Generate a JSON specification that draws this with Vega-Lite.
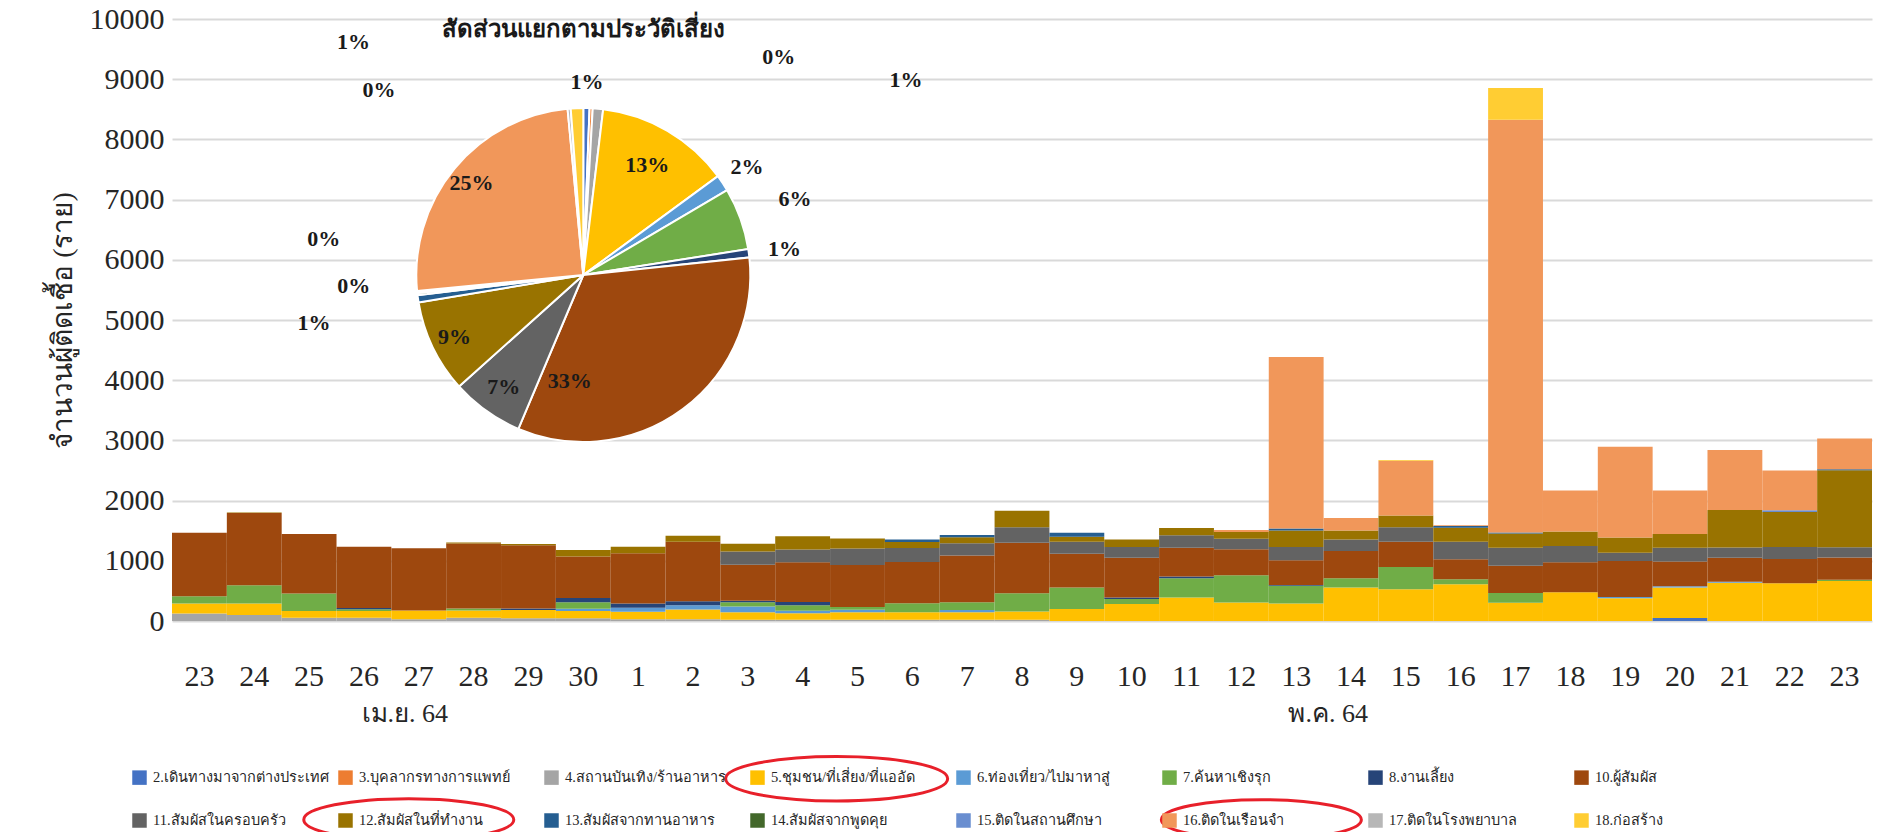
{
  "$schema": "https://vega.github.io/schema/vega-lite/v6.json",
  "width": 1700,
  "height": 602,
  "autosize": "none",
  "padding": {"left": 172, "top": 19, "right": 5, "bottom": 211},
  "background": "white",
  "config": {"view": {"stroke": null}, "font": "Liberation Serif"},
  "datasets": {
    "cats": [
      {"k": 2, "c": "2.เดินทางมาจากต่างประเทศ"},
      {"k": 3, "c": "3.บุคลากรทางการแพทย์"},
      {"k": 4, "c": "4.สถานบันเทิง/ร้านอาหาร"},
      {"k": 5, "c": "5.ชุมชน/ที่เสี่ยง/ที่แออัด"},
      {"k": 6, "c": "6.ท่องเที่ยว/ไปมาหาสู่"},
      {"k": 7, "c": "7.ค้นหาเชิงรุก"},
      {"k": 8, "c": "8.งานเลี้ยง"},
      {"k": 10, "c": "10.ผู้สัมผัส"},
      {"k": 11, "c": "11.สัมผัสในครอบครัว"},
      {"k": 12, "c": "12.สัมผัสในที่ทำงาน"},
      {"k": 13, "c": "13.สัมผัสจากทานอาหาร"},
      {"k": 14, "c": "14.สัมผัสจากพูดคุย"},
      {"k": 15, "c": "15.ติดในสถานศึกษา"},
      {"k": 16, "c": "16.ติดในเรือนจำ"},
      {"k": 17, "c": "17.ติดในโรงพยาบาล"},
      {"k": 18, "c": "18.ก่อสร้าง"}
    ],
    "pie": [
      {"k": 2, "s": 0.006}, {"k": 3, "s": 0.003}, {"k": 4, "s": 0.010}, {"k": 5, "s": 0.13},
      {"k": 6, "s": 0.016}, {"k": 7, "s": 0.06}, {"k": 8, "s": 0.008}, {"k": 10, "s": 0.33},
      {"k": 11, "s": 0.07}, {"k": 12, "s": 0.09}, {"k": 13, "s": 0.007}, {"k": 14, "s": 0.002},
      {"k": 15, "s": 0.002}, {"k": 16, "s": 0.25}, {"k": 17, "s": 0.003}, {"k": 18, "s": 0.012}
    ],
    "bars": [
      {"d": "04-23", "k": 4, "v": 126}, {"d": "04-23", "k": 5, "v": 165}, {"d": "04-23", "k": 7, "v": 121}, {"d": "04-23", "k": 10, "v": 1055},
      {"d": "04-24", "k": 4, "v": 100}, {"d": "04-24", "k": 5, "v": 192}, {"d": "04-24", "k": 7, "v": 302}, {"d": "04-24", "k": 10, "v": 1198}, {"d": "04-24", "k": 12, "v": 12},
      {"d": "04-25", "k": 4, "v": 55}, {"d": "04-25", "k": 5, "v": 110}, {"d": "04-25", "k": 7, "v": 291}, {"d": "04-25", "k": 10, "v": 989},
      {"d": "04-26", "k": 4, "v": 55}, {"d": "04-26", "k": 5, "v": 110}, {"d": "04-26", "k": 7, "v": 30}, {"d": "04-26", "k": 8, "v": 20}, {"d": "04-26", "k": 10, "v": 1020},
      {"d": "04-27", "k": 4, "v": 27}, {"d": "04-27", "k": 5, "v": 148}, {"d": "04-27", "k": 10, "v": 1033},
      {"d": "04-28", "k": 4, "v": 55}, {"d": "04-28", "k": 5, "v": 121}, {"d": "04-28", "k": 7, "v": 33}, {"d": "04-28", "k": 10, "v": 1078}, {"d": "04-28", "k": 12, "v": 15},
      {"d": "04-29", "k": 4, "v": 44}, {"d": "04-29", "k": 5, "v": 137}, {"d": "04-29", "k": 8, "v": 27}, {"d": "04-29", "k": 10, "v": 1050}, {"d": "04-29", "k": 12, "v": 20},
      {"d": "04-30", "k": 4, "v": 44}, {"d": "04-30", "k": 5, "v": 121}, {"d": "04-30", "k": 6, "v": 40}, {"d": "04-30", "k": 7, "v": 108}, {"d": "04-30", "k": 8, "v": 71}, {"d": "04-30", "k": 10, "v": 687}, {"d": "04-30", "k": 12, "v": 110},
      {"d": "05-01", "k": 4, "v": 27}, {"d": "05-01", "k": 5, "v": 126}, {"d": "05-01", "k": 6, "v": 66}, {"d": "05-01", "k": 8, "v": 71}, {"d": "05-01", "k": 10, "v": 835}, {"d": "05-01", "k": 12, "v": 110},
      {"d": "05-02", "k": 4, "v": 27}, {"d": "05-02", "k": 5, "v": 165}, {"d": "05-02", "k": 6, "v": 71}, {"d": "05-02", "k": 8, "v": 66}, {"d": "05-02", "k": 10, "v": 989}, {"d": "05-02", "k": 12, "v": 99},
      {"d": "05-03", "k": 4, "v": 20}, {"d": "05-03", "k": 5, "v": 126}, {"d": "05-03", "k": 6, "v": 93}, {"d": "05-03", "k": 7, "v": 71}, {"d": "05-03", "k": 8, "v": 27}, {"d": "05-03", "k": 10, "v": 599}, {"d": "05-03", "k": 11, "v": 220}, {"d": "05-03", "k": 12, "v": 126},
      {"d": "05-04", "k": 4, "v": 20}, {"d": "05-04", "k": 5, "v": 110}, {"d": "05-04", "k": 6, "v": 40}, {"d": "05-04", "k": 7, "v": 90}, {"d": "05-04", "k": 8, "v": 55}, {"d": "05-04", "k": 10, "v": 660}, {"d": "05-04", "k": 11, "v": 214}, {"d": "05-04", "k": 12, "v": 220},
      {"d": "05-05", "k": 4, "v": 20}, {"d": "05-05", "k": 5, "v": 126}, {"d": "05-05", "k": 6, "v": 40}, {"d": "05-05", "k": 7, "v": 45}, {"d": "05-05", "k": 10, "v": 698}, {"d": "05-05", "k": 11, "v": 275}, {"d": "05-05", "k": 12, "v": 165},
      {"d": "05-06", "k": 4, "v": 20}, {"d": "05-06", "k": 5, "v": 126}, {"d": "05-06", "k": 7, "v": 148}, {"d": "05-06", "k": 10, "v": 687}, {"d": "05-06", "k": 11, "v": 231}, {"d": "05-06", "k": 12, "v": 99}, {"d": "05-06", "k": 13, "v": 44},
      {"d": "05-07", "k": 4, "v": 20}, {"d": "05-07", "k": 5, "v": 126}, {"d": "05-07", "k": 6, "v": 38}, {"d": "05-07", "k": 7, "v": 126}, {"d": "05-07", "k": 10, "v": 780}, {"d": "05-07", "k": 11, "v": 203}, {"d": "05-07", "k": 12, "v": 99}, {"d": "05-07", "k": 13, "v": 38},
      {"d": "05-08", "k": 4, "v": 20}, {"d": "05-08", "k": 5, "v": 137}, {"d": "05-08", "k": 7, "v": 302}, {"d": "05-08", "k": 10, "v": 841}, {"d": "05-08", "k": 11, "v": 258}, {"d": "05-08", "k": 12, "v": 275},
      {"d": "05-09", "k": 5, "v": 198}, {"d": "05-09", "k": 7, "v": 358}, {"d": "05-09", "k": 10, "v": 562}, {"d": "05-09", "k": 11, "v": 198}, {"d": "05-09", "k": 12, "v": 83}, {"d": "05-09", "k": 13, "v": 66},
      {"d": "05-10", "k": 5, "v": 281}, {"d": "05-10", "k": 7, "v": 83}, {"d": "05-10", "k": 8, "v": 27}, {"d": "05-10", "k": 10, "v": 661}, {"d": "05-10", "k": 11, "v": 176}, {"d": "05-10", "k": 12, "v": 127},
      {"d": "05-11", "k": 5, "v": 391}, {"d": "05-11", "k": 7, "v": 320}, {"d": "05-11", "k": 8, "v": 30}, {"d": "05-11", "k": 10, "v": 474}, {"d": "05-11", "k": 11, "v": 209}, {"d": "05-11", "k": 12, "v": 121},
      {"d": "05-12", "k": 5, "v": 309}, {"d": "05-12", "k": 7, "v": 452}, {"d": "05-12", "k": 10, "v": 430}, {"d": "05-12", "k": 11, "v": 176}, {"d": "05-12", "k": 12, "v": 110}, {"d": "05-12", "k": 16, "v": 33},
      {"d": "05-13", "k": 5, "v": 292}, {"d": "05-13", "k": 7, "v": 292}, {"d": "05-13", "k": 8, "v": 16}, {"d": "05-13", "k": 10, "v": 408}, {"d": "05-13", "k": 11, "v": 220}, {"d": "05-13", "k": 12, "v": 275}, {"d": "05-13", "k": 13, "v": 33}, {"d": "05-13", "k": 16, "v": 2850},
      {"d": "05-14", "k": 5, "v": 556}, {"d": "05-14", "k": 7, "v": 154}, {"d": "05-14", "k": 10, "v": 452}, {"d": "05-14", "k": 11, "v": 193}, {"d": "05-14", "k": 12, "v": 149}, {"d": "05-14", "k": 16, "v": 209},
      {"d": "05-15", "k": 5, "v": 529}, {"d": "05-15", "k": 7, "v": 369}, {"d": "05-15", "k": 10, "v": 419}, {"d": "05-15", "k": 11, "v": 242}, {"d": "05-15", "k": 12, "v": 193}, {"d": "05-15", "k": 16, "v": 909}, {"d": "05-15", "k": 18, "v": 12},
      {"d": "05-16", "k": 5, "v": 611}, {"d": "05-16", "k": 7, "v": 83}, {"d": "05-16", "k": 10, "v": 331}, {"d": "05-16", "k": 11, "v": 292}, {"d": "05-16", "k": 12, "v": 231}, {"d": "05-16", "k": 13, "v": 28}, {"d": "05-16", "k": 16, "v": 15},
      {"d": "05-17", "k": 5, "v": 305}, {"d": "05-17", "k": 7, "v": 162}, {"d": "05-17", "k": 10, "v": 449}, {"d": "05-17", "k": 11, "v": 299}, {"d": "05-17", "k": 12, "v": 240}, {"d": "05-17", "k": 13, "v": 15}, {"d": "05-17", "k": 16, "v": 6856}, {"d": "05-17", "k": 18, "v": 527},
      {"d": "05-18", "k": 5, "v": 479}, {"d": "05-18", "k": 10, "v": 497}, {"d": "05-18", "k": 11, "v": 269}, {"d": "05-18", "k": 12, "v": 240}, {"d": "05-18", "k": 16, "v": 683},
      {"d": "05-19", "k": 5, "v": 377}, {"d": "05-19", "k": 6, "v": 20}, {"d": "05-19", "k": 10, "v": 599}, {"d": "05-19", "k": 11, "v": 138}, {"d": "05-19", "k": 12, "v": 251}, {"d": "05-19", "k": 16, "v": 1509},
      {"d": "05-20", "k": 2, "v": 48}, {"d": "05-20", "k": 5, "v": 509}, {"d": "05-20", "k": 6, "v": 20}, {"d": "05-20", "k": 10, "v": 413}, {"d": "05-20", "k": 11, "v": 228}, {"d": "05-20", "k": 12, "v": 228}, {"d": "05-20", "k": 16, "v": 720},
      {"d": "05-21", "k": 5, "v": 635}, {"d": "05-21", "k": 6, "v": 15}, {"d": "05-21", "k": 10, "v": 401}, {"d": "05-21", "k": 11, "v": 168}, {"d": "05-21", "k": 12, "v": 623}, {"d": "05-21", "k": 16, "v": 1000},
      {"d": "05-22", "k": 15, "v": 30}, {"d": "05-22", "k": 5, "v": 629}, {"d": "05-22", "k": 10, "v": 401}, {"d": "05-22", "k": 11, "v": 198}, {"d": "05-22", "k": 12, "v": 581}, {"d": "05-22", "k": 16, "v": 660},
      {"d": "05-23", "k": 5, "v": 665}, {"d": "05-23", "k": 7, "v": 20}, {"d": "05-23", "k": 10, "v": 371}, {"d": "05-23", "k": 11, "v": 168}, {"d": "05-23", "k": 12, "v": 1281}, {"d": "05-23", "k": 13, "v": 15}, {"d": "05-23", "k": 16, "v": 510}
    ]
  },
  "layer": [
    {
      "data": {"name": "bars"},
      "transform": [{"lookup": "k", "from": {"data": {"name": "cats"}, "key": "k", "fields": ["c"]}}],
      "mark": {"type": "bar"},
      "encoding": {
        "x": {
          "field": "d", "type": "ordinal",
          "scale": {"paddingInner": 0, "paddingOuter": 0},
          "axis": {"orient": "bottom", "title": null, "labelExpr": "'' + parseInt(substring(datum.value, 3))", "labelAngle": 0, "labelFont": "Liberation Serif", "labelFontSize": 30, "labelColor": "#262626", "labelBaseline": "middle", "labelPadding": 55, "ticks": false, "domain": false, "grid": false}
        },
        "y": {
          "field": "v", "type": "quantitative", "stack": "zero",
          "scale": {"domain": [0, 10000], "nice": false},
          "axis": {"title": "จำนวนผู้ติดเชื้อ (ราย)", "format": "d", "values": [0, 1000, 2000, 3000, 4000, 5000, 6000, 7000, 8000, 9000, 10000], "labelFont": "Liberation Serif", "labelFontSize": 30, "labelColor": "#262626", "labelPadding": 8, "ticks": false, "domain": false, "gridColor": "#d9d9d9", "gridWidth": 2, "titleFont": "Liberation Serif", "titleFontSize": 28, "titleFontWeight": "normal", "titleColor": "#262626", "titlePadding": 12}
        },
        "color": {
          "field": "c", "type": "nominal",
          "scale": {
            "domain": ["2.เดินทางมาจากต่างประเทศ", "3.บุคลากรทางการแพทย์", "4.สถานบันเทิง/ร้านอาหาร", "5.ชุมชน/ที่เสี่ยง/ที่แออัด", "6.ท่องเที่ยว/ไปมาหาสู่", "7.ค้นหาเชิงรุก", "8.งานเลี้ยง", "10.ผู้สัมผัส", "11.สัมผัสในครอบครัว", "12.สัมผัสในที่ทำงาน", "13.สัมผัสจากทานอาหาร", "14.สัมผัสจากพูดคุย", "15.ติดในสถานศึกษา", "16.ติดในเรือนจำ", "17.ติดในโรงพยาบาล", "18.ก่อสร้าง"],
            "range": ["#4472C4", "#ED7D31", "#A5A5A5", "#FFC000", "#5B9BD5", "#70AD47", "#264478", "#9E480E", "#636363", "#997300", "#255E91", "#43682B", "#698ED0", "#F1975A", "#B7B7B7", "#FFCD33"]
          },
          "legend": {"orient": "none", "legendX": -40, "legendY": 751, "direction": "horizontal", "columns": 8, "title": null, "symbolType": "square", "symbolSize": 210, "symbolStrokeWidth": 0, "labelFont": "Liberation Serif", "labelFontSize": 14.5, "labelColor": "#262626", "columnPadding": 9, "rowPadding": 27, "labelLimit": 400, "gridAlign": "all", "labelOffset": 6, "padding": 0}
        },
        "order": {"field": "k", "type": "quantitative", "sort": "ascending"}
      }
    },
    {
      "data": {"name": "pie"},
      "transform": [{"lookup": "k", "from": {"data": {"name": "cats"}, "key": "k", "fields": ["c"]}}],
      "mark": {"type": "arc", "outerRadius": 167, "stroke": "white", "strokeWidth": 2, "yOffset": -45},
      "encoding": {
        "x": {"datum": "04-30", "type": "ordinal", "axis": {"orient": "bottom", "title": null, "labelExpr": "datum.value == '04-27' ? 'เม.ย. 64' : datum.value == '05-13' ? 'พ.ค. 64' : ''", "labelOffset": {"condition": {"test": "datum.value == '04-27'", "value": -14}, "value": 32}, "labelAngle": 0, "labelFont": "Liberation Serif", "labelFontSize": 26, "labelColor": "#262626", "labelBaseline": "middle", "labelPadding": 92, "ticks": false, "domain": false, "grid": false}},
        "theta": {"field": "s", "type": "quantitative", "stack": true},
        "color": {"field": "c", "type": "nominal"},
        "order": {"field": "k", "type": "quantitative", "sort": "ascending"}
      }
    },
    {
      "data": {"name": "pie"},
      "mark": {
        "type": "text", "yOffset": -45, "font": "Liberation Serif", "fontWeight": "bold", "fontSize": 22, "color": "#1a1a1a",
        "radius": {"expr": "datum.k==5?127:datum.k==16?145:datum.k==11?137:datum.k==12?143:datum.k==10?108:datum.k==6?196:datum.k==7?225:datum.k==8?203:datum.k==13?272:datum.k==14?231:datum.k==15?261:datum.k==2?193:180"},
        "dx": {"expr": "datum.k==10?-78:datum.k==3?187:datum.k==4?307:datum.k==17?-189:datum.k==18?-223:0"},
        "dy": {"expr": "datum.k==10?19:datum.k==13?9:datum.k==14?-15:datum.k==15?-63:datum.k==3?-38:datum.k==4?-16:datum.k==17?-6:datum.k==18?-53:0"}
      },
      "encoding": {
        "x": {"datum": "04-30", "type": "ordinal", "axis": null},
        "theta": {"field": "s", "type": "quantitative", "stack": true},
        "detail": {"field": "k", "type": "nominal"},
        "order": {"field": "k", "type": "quantitative", "sort": "ascending"},
        "text": {"field": "s", "type": "quantitative", "format": ".0%"}
      }
    },
    {
      "data": {"values": [{"t": "สัดส่วนแยกตามประวัติเสี่ยง"}]},
      "mark": {"type": "text", "font": "Liberation Serif", "fontWeight": "bold", "fontSize": 24, "color": "#1a1a1a", "yOffset": -290},
      "encoding": {
        "x": {"datum": "04-30", "type": "ordinal", "axis": null},
        "text": {"field": "t", "type": "nominal"}
      }
    },
    {
      "data": {"values": [{"k": 5}]},
      "mark": {"type": "point", "shape": "M -1 0 A 1 0.2 0 1 0 1 0 A 1 0.2 0 1 0 -1 0", "size": 49284, "filled": false, "stroke": "#e8202a", "strokeWidth": 3, "opacity": 1, "xOffset": 34},
      "encoding": {
        "x": {"datum": "05-04", "type": "ordinal", "axis": null},
        "y": {"datum": -2620, "type": "quantitative"}
      }
    },
    {
      "data": {"values": [{"k": 12}]},
      "mark": {"type": "point", "shape": "M -1 0 A 1 0.2 0 1 0 1 0 A 1 0.2 0 1 0 -1 0", "size": 44100, "filled": false, "stroke": "#e8202a", "strokeWidth": 3, "opacity": 1, "xOffset": -10},
      "encoding": {
        "x": {"datum": "04-27", "type": "ordinal", "axis": null},
        "y": {"datum": -3300, "type": "quantitative"}
      }
    },
    {
      "data": {"values": [{"k": 16}]},
      "mark": {"type": "point", "shape": "M -1 0 A 1 0.2 0 1 0 1 0 A 1 0.2 0 1 0 -1 0", "size": 40000, "filled": false, "stroke": "#e8202a", "strokeWidth": 3, "opacity": 1, "xOffset": 20},
      "encoding": {
        "x": {"datum": "05-12", "type": "ordinal", "axis": null},
        "y": {"datum": -3300, "type": "quantitative"}
      }
    }
  ],
  "resolve": {"axis": {"x": "independent"}}
}
